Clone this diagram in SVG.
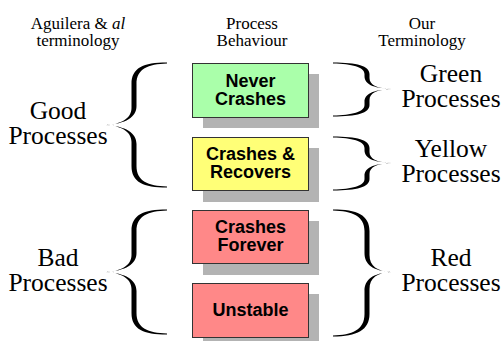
<svg xmlns="http://www.w3.org/2000/svg" xmlns:xlink="http://www.w3.org/1999/xlink" width="501" height="341" viewBox="0 0 501 341">
  <style>
    .hdr { font-family: "Liberation Serif", "Times New Roman", serif; font-size: 17px; fill: #000; text-anchor: middle; }
    .side { font-family: "Liberation Serif", "Times New Roman", serif; font-size: 25.5px; fill: #000; text-anchor: middle; }
    .lbl { font-family: "Liberation Sans", Arial, sans-serif; font-weight: bold; font-size: 18px; fill: #000; text-anchor: middle; }
    .box { stroke: #333; stroke-width: 1; }
    .shadow { fill: #b3b3b3; }
    .brace { fill: #000; }
  </style>
  <defs>
    <!-- tall left brace, tip at (105,125) -->
    <path id="lbrace" class="brace" d="M167,62.5 C143,62.5 131.5,68 131.5,84 L131.5,108 C131.5,119 120,124.5 105,125 C120,125.5 131.5,131 131.5,142 L131.5,166 C131.5,182 143,187.5 167,187.5 L167,186.5 C148,186 136.5,181 136.5,166 L136.5,144 C136.5,133 126,126 105,125 C126,124 136.5,117 136.5,106 L136.5,84 C136.5,69 148,64 167,63.5 Z"/>
    <!-- short right brace, tip at (392,89) -->
    <path id="rbrace-s" class="brace" d="M333,62.5 C357,62.5 369.5,66 369.5,74 L369.5,78 C369.5,85 377,88.5 392,89 C377,89.5 369.5,93 369.5,100 L369.5,105 C369.5,113 357,116.5 333,116.5 L333,115.5 C352,115 364.5,112 364.5,105 L364.5,102 C364.5,94 372,90 392,89 C372,88 364.5,84 364.5,76 L364.5,74 C364.5,67 352,64 333,63.5 Z"/>
    <!-- tall right brace, tip at (392,272) -->
    <path id="rbrace-l" class="brace" d="M333,209.5 C357,209.5 369.5,215 369.5,231 L369.5,255 C369.5,266 377,271.5 392,272 C377,272.5 369.5,278 369.5,289 L369.5,314 C369.5,330 357,336.5 333,336.5 L333,335.5 C352,335 364.5,330 364.5,314 L364.5,291 C364.5,280 372,273 392,272 C372,271 364.5,264 364.5,253 L364.5,231 C364.5,216 352,211 333,210.5 Z"/>
  </defs>

  <rect width="501" height="341" fill="#fff"/>

  <!-- column headings -->
  <g id="headers">
    <text class="hdr" x="78" y="29">Aguilera &amp; <tspan font-style="italic">al</tspan></text>
    <text class="hdr" x="78" y="46">terminology</text>
    <text class="hdr" x="252" y="29">Process</text>
    <text class="hdr" x="252" y="46">Behaviour</text>
    <text class="hdr" x="422" y="29">Our</text>
    <text class="hdr" x="422" y="46">Terminology</text>
  </g>

  <!-- left-hand categories -->
  <g id="good">
    <text class="side" x="58" y="119">Good</text>
    <text class="side" x="58" y="144">Processes</text>
    <use xlink:href="#lbrace"/>
  </g>
  <g id="bad">
    <text class="side" x="58" y="266">Bad</text>
    <text class="side" x="58" y="291">Processes</text>
    <use xlink:href="#lbrace" transform="translate(0,147)"/>
  </g>

  <!-- behaviour boxes -->
  <g id="never-crashes">
    <rect class="shadow" x="203" y="74" width="116" height="54"/>
    <rect class="box" x="192.5" y="63.5" width="116" height="54" fill="#aaffaa"/>
    <text class="lbl" x="250.5" y="87">Never</text>
    <text class="lbl" x="250.5" y="105">Crashes</text>
  </g>
  <g id="crashes-recovers">
    <rect class="shadow" x="203" y="148" width="116" height="54"/>
    <rect class="box" x="192.5" y="137.5" width="116" height="53" fill="#ffff77"/>
    <text class="lbl" x="250.5" y="160">Crashes &amp;</text>
    <text class="lbl" x="250.5" y="178">Recovers</text>
  </g>
  <g id="crashes-forever">
    <rect class="shadow" x="203" y="221" width="116" height="54"/>
    <rect class="box" x="192.5" y="210.5" width="116" height="53" fill="#ff8888"/>
    <text class="lbl" x="250.5" y="233">Crashes</text>
    <text class="lbl" x="250.5" y="251">Forever</text>
  </g>
  <g id="unstable">
    <rect class="shadow" x="203" y="294" width="116" height="54"/>
    <rect class="box" x="192.5" y="283.5" width="116" height="54" fill="#ff8888"/>
    <text class="lbl" x="250.5" y="316">Unstable</text>
  </g>

  <!-- right-hand categories -->
  <g id="green">
    <use xlink:href="#rbrace-s"/>
    <text class="side" x="451" y="82">Green</text>
    <text class="side" x="451" y="107">Processes</text>
  </g>
  <g id="yellow">
    <use xlink:href="#rbrace-s" transform="translate(0,74)"/>
    <text class="side" x="451" y="157">Yellow</text>
    <text class="side" x="451" y="182">Processes</text>
  </g>
  <g id="red">
    <use xlink:href="#rbrace-l"/>
    <text class="side" x="451" y="266">Red</text>
    <text class="side" x="451" y="291">Processes</text>
  </g>
</svg>
